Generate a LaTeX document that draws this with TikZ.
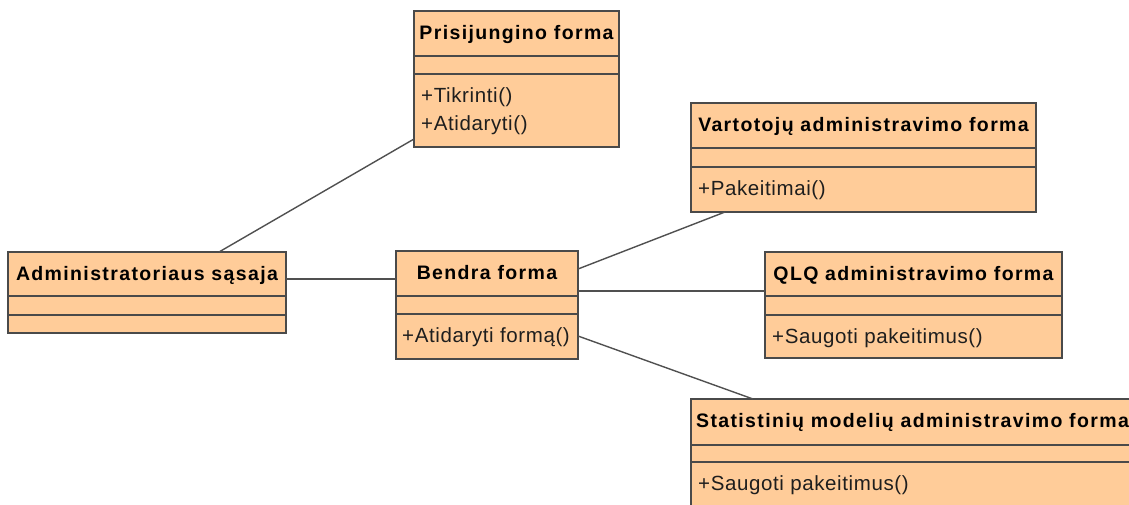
\documentclass[tikz,border=0pt]{standalone}
\usepackage{fontspec}
\setmainfont{Liberation Sans}
\newfontfamily\headfam[LetterSpace=7]{Liberation Sans}
\newfontfamily\methfam[LetterSpace=3]{Liberation Sans}
\usetikzlibrary{calc}

\definecolor{boxfill}{HTML}{FFCC99}
\definecolor{boxline}{HTML}{4A4A4A}
\definecolor{linecol}{HTML}{505050}
\definecolor{methtext}{HTML}{1E1E1E}

\tikzset{
  classbox/.style={draw=boxline, fill=boxfill, line width=1.3pt, rectangle,
                   inner sep=0pt, outer sep=0pt, anchor=north west},
  sepline/.style={draw=boxline, line width=1.3pt},
  classtitle/.style={font=\headfam\bfseries\fontsize{19.5}{23}\selectfont,
                     anchor=base, inner sep=0pt, text=black},
  method/.style={font=\methfam\fontsize{20.5}{25}\selectfont, anchor=base west,
                 inner sep=0pt, text=methtext},
  assoc/.style={draw=linecol, line width=1.4pt}
}

% \umlclass{name}{x1}{y1}{x2}{y2}{header bottom}{attributes bottom}{title}
\newcommand\umlclass[8]{%
  \node[classbox, minimum width={#4-#2}, minimum height={#5-#3}] (#1) at (#2,#3) {};
  \draw[sepline] (#2,#6) -- (#4,#6);
  \draw[sepline] (#2,#7) -- (#4,#7);
  \node[classtitle] (#1-title) at ({(#2+#4)/2},#3+28) {#8};
}

\begin{document}
\begin{tikzpicture}[x=1pt,y=-1pt]
  \useasboundingbox (0,0) rectangle (1129,504);

  % class boxes
  \umlclass{pf}{414}{11}{619}{147}{56}{74}{Prisijungino forma}
  \node[method] (pf-m1) at (421,102) {+Tikrinti()};
  \node[method] (pf-m2) at (421,130) {+Atidaryti()};

  \umlclass{vf}{691}{103}{1036}{212}{148}{167}{Vartotojų administravimo forma}
  \node[method] (vf-m1) at (698,195) {+Pakeitimai()};

  \umlclass{as}{8}{252}{286}{333}{296}{315}{Administratoriaus sąsaja}

  \umlclass{bf}{396}{251}{578}{359}{296}{314}{Bendra forma}
  \node[method] (bf-m1) at (402,342) {+Atidaryti formą()};

  \umlclass{ql}{765}{252}{1062}{358}{296}{315}{QLQ administravimo forma}
  \node[method] (ql-m1) at (772,343) {+Saugoti pakeitimus()};

  \umlclass{st}{691}{399}{1134}{508}{445}{462}{Statistinių modelių administravimo forma}
  \node[method] (st-m1) at (698,490) {+Saugoti pakeitimus()};

  % associations
  \draw[assoc] ($(as.north west)+(211,0)$) -- ($(pf.south west)+(0,-8)$);
  \draw[assoc] ($(as.north east)+(0,27)$) -- ($(bf.north west)+(0,28)$);
  \draw[assoc] ($(bf.north east)+(0,18)$) -- ($(vf.south west)+(34,0)$);
  \draw[assoc] ($(bf.north east)+(0,40)$) -- ($(ql.north west)+(0,39)$);
  \draw[assoc] ($(bf.north east)+(0,85)$) -- ($(st.north west)+(62,0)$);
\end{tikzpicture}
\end{document}
